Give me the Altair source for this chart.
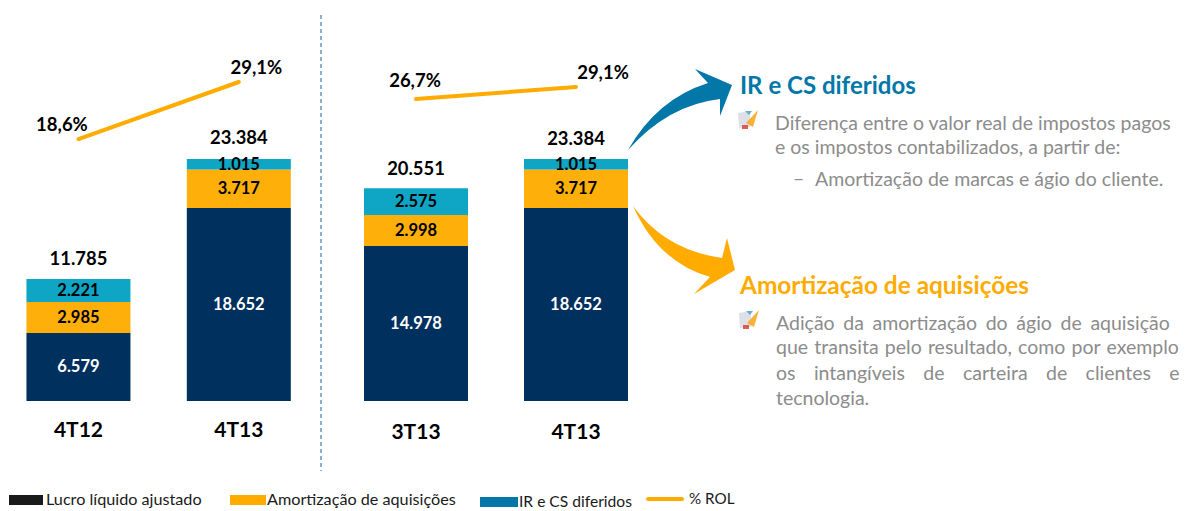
import altair as alt

PERIODS_LEFT = ["4T12", "4T13"]
PERIODS_RIGHT = ["3T13", "4T13"]
SERIES = ["Lucro líquido ajustado", "Amortização de aquisições", "IR e CS diferidos"]
LEFT_LUCRO = [6579, 18652]
LEFT_AMORT = [2985, 3717]
LEFT_IR = [2221, 1015]
RIGHT_LUCRO = [14978, 18652]
RIGHT_AMORT = [2998, 3717]
RIGHT_IR = [2575, 1015]
LEFT_ROL = [18.6, 29.1]
RIGHT_ROL = [26.7, 29.1]

NAVY, ORANGE, TEAL = "#00305E", "#FFAF0A", "#0FA5C5"
LINE_ORANGE = "#FFAB00"
BLUE = "#0277A8"
GRAY = "#8C8C8C"
FONT = "Lato"
W1, H = 313, 393
W2 = 859


def px(x):
    return x - 321


def py(y):
    return y - 8


def one():
    return alt.Chart(alt.Data(values=[{}]))


def text(s, x, y, size, color, bold=False, align="left"):
    return one().mark_text(
        align=align, baseline="middle", font=FONT, fontSize=size, color=color,
        fontWeight="bold" if bold else "normal",
    ).encode(x=alt.value(x), y=alt.value(y), text=alt.value(s))


def box(x0, x1, y0, y1, color):
    return one().mark_rect(color=color).encode(
        x=alt.value(x0), x2=alt.value(x1), y=alt.value(y0), y2=alt.value(y1))


def shape(points, cx, cy, color, scale=100, opacity=1):
    """points: SVG-like list of (command, coords...) in page pixels."""
    d = ""
    for cmd, *vals in points:
        d += cmd
        coords = []
        for i, v in enumerate(vals):
            c = cx if i % 2 == 0 else cy
            coords.append(f"{(v - c) / scale:.4f}")
        d += ",".join(coords)
    d += "Z"
    return one().mark_point(filled=True, shape=d, size=(2 * scale) ** 2, color=color, opacity=opacity).encode(
        x=alt.value(cx - 321), y=alt.value(cy - 8))


def icon(x0, y0):
    layers = [
        shape([("M", x0 + 1, y0 + 3), ("L", x0 + 13, y0 + 1), ("L", x0 + 13, y0 + 17), ("L", x0 + 2, y0 + 18)],
              x0 + 10, y0 + 10, "#DDE0E6", 10),
        shape([("M", x0 + 21, y0), ("L", x0 + 16, y0 + 17), ("L", x0 + 9, y0 + 13)],
              x0 + 10, y0 + 10, "#F9A825", 10, 0.9),
        shape([("M", x0 + 5, y0 + 15), ("L", x0 + 11, y0 + 15), ("L", x0 + 11, y0 + 19), ("L", x0 + 5, y0 + 19)],
              x0 + 10, y0 + 10, "#D9423C", 10, 0.85),
        shape([("M", x0 + 8, y0 + 1), ("L", x0 + 15, y0 + 1), ("L", x0 + 12, y0 + 5)],
              x0 + 10, y0 + 10, "#4FA8C8", 10, 0.85),
    ]
    return layers


def records(periods, lucro, amort, ir):
    rows = []
    for i, p in enumerate(periods):
        for k, (s, v) in enumerate(zip(SERIES, (lucro[i], amort[i], ir[i]))):
            rows.append({"period": p, "series": s, "order": k, "value": v})
    return rows


YS = alt.Scale(domain=[0, 37971], nice=False, zero=False)


def panel(periods, lucro, amort, ir, rol, band, rol_domain, pct_offsets, label_pad, total_dy, extra, width):
    xs = alt.Scale(domain=periods, range=band, paddingInner=0, paddingOuter=0)
    base = alt.Chart(alt.Data(values=records(periods, lucro, amort, ir))).transform_stack(
        stack="value", groupby=["period"], as_=["y0", "y1"], sort=[alt.SortField("order")]
    ).transform_calculate(
        mid="(datum.y0 + datum.y1) / 2",
        label="replace(format(datum.value, ','), ',', '.')",
    )
    xaxis = alt.Axis(
        labelFont=FONT, labelFontSize=21, labelFontWeight="bold", labelColor="black", labelAngle=0,
        ticks=False, domain=False, labelPadding=label_pad, grid=False, title=None)
    xenc = alt.X("period:N", scale=xs, sort=periods, title=None, axis=xaxis)
    bars = base.mark_bar(size=104).encode(
        x=xenc,
        y=alt.Y("y0:Q", scale=YS, axis=None),
        y2="y1:Q",
        color=alt.Color("series:N", scale=alt.Scale(domain=SERIES, range=[NAVY, ORANGE, TEAL]), legend=None),
    )
    seg = base.mark_text(font=FONT, fontSize=16.5, fontWeight="bold", baseline="middle", dy=0.5).encode(
        x=xenc, y=alt.Y("mid:Q", scale=YS, axis=None), text="label:N",
        color=alt.condition("datum.order == 0", alt.value("white"), alt.value("black")),
    )
    totals = alt.Chart(alt.Data(values=records(periods, lucro, amort, ir))).transform_aggregate(
        total="sum(value)", groupby=["period"]
    ).transform_calculate(label="replace(format(datum.total, ','), ',', '.')").mark_text(
        font=FONT, fontSize=18.4, fontWeight="bold", baseline="middle", color="black", dy=total_dy
    ).encode(x=xenc, y=alt.Y("total:Q", scale=YS, axis=None), text="label:N")

    rs = alt.Scale(domain=rol_domain, nice=False, zero=False)
    rol_rows = [{"period": p, "rol": v, "label": f"{v:.1f}%".replace(".", ",")} for p, v in zip(periods, rol)]
    line = alt.Chart(alt.Data(values=rol_rows)).mark_line(color=LINE_ORANGE, strokeWidth=4, strokeCap="round").encode(
        x=xenc, y=alt.Y("rol:Q", scale=rs, axis=None))
    pct = []
    for p, (dx, dy) in zip(periods, pct_offsets):
        pct.append(
            alt.Chart(alt.Data(values=rol_rows)).transform_filter(alt.datum.period == p).mark_text(
                font=FONT, fontSize=18.5, fontWeight="bold", color="black", baseline="middle", dx=dx, dy=dy
            ).encode(x=xenc, y=alt.Y("rol:Q", scale=rs, axis=None), text="label:N"))
    return alt.layer(bars, seg, totals, line, *pct, *extra).resolve_scale(y="independent").properties(
        width=width, height=H)


legend_left = [
    box(1, 35, py(495), py(505), "#1A1A1A"),
    text("Lucro líquido ajustado", 38, py(500), 16.2, "#1A1A1A"),
    box(222, 258, py(495), py(505), LINE_ORANGE),
    text("Amortização de aquisições", 259, py(500), 16.2, "#1A1A1A"),
    box(472, 510, py(497), py(507), BLUE),
    text("IR e CS diferidos", 511, py(502), 15.6, "#1A1A1A"),
    one().mark_rule(color=LINE_ORANGE, strokeWidth=4, strokeCap="round").encode(
        x=alt.value(640), x2=alt.value(674), y=alt.value(py(499))),
    text("% ROL", 681, py(499), 15.2, "#1A1A1A"),
]

divider = one().mark_rule(color="#3B7FB5", strokeWidth=1.2, strokeDash=[4, 3]).encode(
    x=alt.value(0), y=alt.value(py(15)), y2=alt.value(py(471)))

blue_arrow = shape([("M", 628, 150), ("Q", 657, 99, 708, 83), ("L", 695, 69), ("L", 732, 85), ("L", 720, 116),
                    ("L", 720, 99), ("Q", 668, 105, 628, 150)], 680, 110, BLUE)
orange_arrow = shape([("M", 633, 206), ("Q", 665, 250, 722, 258), ("L", 727, 238), ("L", 735, 270), ("L", 694, 294),
                      ("L", 710, 277), ("Q", 658, 262, 633, 206)], 680, 250, LINE_ORANGE)

MID = " \u2009\u200a"
HAIR = " \u200a"
WIDE = " \u2002\u2009\u200a"
BODY = 19.5
right_text = [
    text("IR e CS diferidos", px(740), py(87), 24, BLUE, True),
    text("Diferença entre o valor real de impostos pagos", px(775), py(124), BODY, GRAY),
    text("e os impostos contabilizados, a partir de:", px(775), py(148), BODY, GRAY),
    text("–", px(793), py(179), BODY, GRAY),
    text("Amortização de marcas e ágio do cliente.", px(815), py(180), BODY, GRAY),
    text("Amortização de aquisições", px(740), py(287), 24.4, LINE_ORANGE, True),
    text("Adição da amortização do ágio de aquisição".replace(" ", MID), px(776), py(324), BODY, GRAY),
    text("que transita pelo resultado, como por exemplo".replace(" ", HAIR), px(776), py(348), BODY, GRAY),
    text("os intangíveis de carteira de clientes e".replace(" ", WIDE), px(776), py(374), BODY, GRAY),
    text("tecnologia.", px(776), py(399), BODY, GRAY),
]

left = panel(PERIODS_LEFT, LEFT_LUCRO, LEFT_AMORT, LEFT_IR, LEFT_ROL, [-9.75, 311],
             [-29.65, 42.73], [(-16.5, -14), (17.5, -14)], 18, -20.5, legend_left, W1)
right = panel(PERIODS_RIGHT, RIGHT_LUCRO, RIGHT_AMORT, RIGHT_IR, RIGHT_ROL, [15, 335],
              [-33.7, 44.9], [(-1, -18.5), (27, -14)], 20, -19.5,
              [divider, blue_arrow, orange_arrow, *right_text, *icon(737, 110), *icon(738, 310)], W2)

chart = alt.hconcat(left, right, spacing=0, bounds="flush").properties(
    padding=0, background="white"
).configure_view(stroke=None)

chart.save("out.html", embed_options={"renderer": "svg", "actions": False})
